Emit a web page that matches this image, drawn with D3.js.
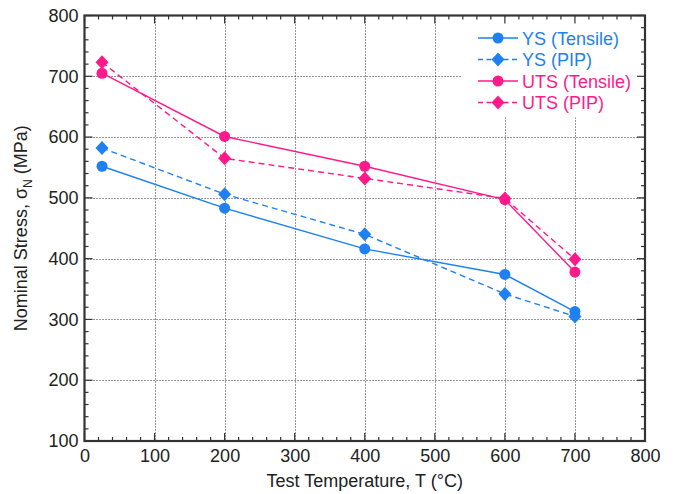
<!DOCTYPE html>
<html><head><meta charset="utf-8">
<script src="https://cdn.jsdelivr.net/npm/d3@7"></script>
<style>body{margin:0;background:#fff}svg{display:block}text{font-family:"Liberation Sans",Arial,sans-serif}</style>
</head><body>
<svg id="c" width="676" height="494"></svg>
<script>
const temps = [25, 200, 400, 600, 700];
const ysTensile = [552, 483, 416, 374, 313];
const ysPIP = [582, 506, 440, 342, 305];
const utsTensile = [705, 601, 552, 497, 378];
const utsPIP = [723, 565, 532, 499, 399];
const seriesNames = ["YS (Tensile)", "YS (PIP)", "UTS (Tensile)", "UTS (PIP)"];
const xTicks = [0,100,200,300,400,500,600,700,800];
const yTicks = [100,200,300,400,500,600,700,800];

const blue = "#1e80f2", pink = "#ff1a8c";
const series = [
  {name: seriesNames[0], vals: ysTensile, color: blue, dash: null, marker: "circle"},
  {name: seriesNames[1], vals: ysPIP, color: blue, dash: "6,4", marker: "diamond"},
  {name: seriesNames[2], vals: utsTensile, color: pink, dash: null, marker: "circle"},
  {name: seriesNames[3], vals: utsPIP, color: pink, dash: "6,4", marker: "diamond"}
];

const L = 84.5, R = 645, T = 15.5, B = 441;
const FS = 18;
const svg = d3.select("#c");
const x = d3.scaleLinear().domain([0,800]).range([L,R]);
const y = d3.scaleLinear().domain([100,800]).range([B,T]);

// grid
const g = svg.append("g");
g.selectAll(".gx").data(xTicks.slice(1,-1)).join("line")
  .attr("x1", d=>Math.round(x(d))+0.5).attr("x2", d=>Math.round(x(d))+0.5).attr("y1", T).attr("y2", B)
  .attr("stroke", "#333").attr("stroke-width", 1).attr("stroke-dasharray", "1,2");
g.selectAll(".gy").data(yTicks.slice(1,-1)).join("line")
  .attr("x1", L).attr("x2", R).attr("y1", d=>Math.round(y(d))+0.5).attr("y2", d=>Math.round(y(d))+0.5)
  .attr("stroke", "#333").attr("stroke-width", 1).attr("stroke-dasharray", "1,2");

// legend background (covers grid)
svg.append("rect").attr("x", 462).attr("y", T+2).attr("width", R-462-2).attr("height", 100).attr("fill", "#fff");

// ticks
const minorX = d3.range(0, 801, 20), minorY = d3.range(100, 801, 20);
const tk = svg.append("g").attr("stroke", "#333").attr("stroke-width", 1.2);
minorX.forEach(v => {
  const len = v % 100 === 0 ? 8 : 4;
  tk.append("line").attr("x1", x(v)).attr("x2", x(v)).attr("y1", B).attr("y2", B-len);
  tk.append("line").attr("x1", x(v)).attr("x2", x(v)).attr("y1", T).attr("y2", T+len);
});
minorY.forEach(v => {
  const len = v % 100 === 0 ? 8 : 4;
  tk.append("line").attr("x1", L).attr("x2", L+len).attr("y1", y(v)).attr("y2", y(v));
  tk.append("line").attr("x1", R).attr("x2", R-len).attr("y1", y(v)).attr("y2", y(v));
});

// axes labels via d3 axes (no lines)
const xa = svg.append("g").attr("transform", `translate(0,${B})`)
  .call(d3.axisBottom(x).tickValues(xTicks).tickSize(0).tickPadding(8));
xa.select(".domain").remove();
xa.selectAll("text").attr("font-size", FS).attr("fill", "#222").attr("font-family", "Liberation Sans, Arial, sans-serif");
const ya = svg.append("g").attr("transform", `translate(${L},0)`)
  .call(d3.axisLeft(y).tickValues(yTicks).tickSize(0).tickPadding(6));
ya.select(".domain").remove();
ya.selectAll("text").attr("font-size", FS).attr("fill", "#222").attr("font-family", "Liberation Sans, Arial, sans-serif");

// frame
svg.append("rect").attr("x", L).attr("y", T).attr("width", R-L).attr("height", B-T)
  .attr("fill", "none").attr("stroke", "#333").attr("stroke-width", 2.2);

// titles
svg.append("text").attr("x", (L+R)/2).attr("y", 487).attr("text-anchor", "middle")
  .attr("font-size", FS).attr("fill", "#222").text("Test Temperature, T (°C)");
const yt = svg.append("text").attr("transform", `translate(27,${(T+B)/2}) rotate(-90)`)
  .attr("text-anchor", "middle").attr("font-size", FS).attr("fill", "#222");
yt.append("tspan").text("Nominal Stress, σ");
yt.append("tspan").attr("font-size", 12).attr("dy", 5).text("N");
yt.append("tspan").attr("dy", -5).text(" (MPa)");

// series
const line = d3.line().x((d,i)=>x(temps[i])).y(d=>y(d));
function marker(sel, type, cx, cy, color) {
  if (type === "circle") sel.append("circle").attr("cx", cx).attr("cy", cy).attr("r", 5.5).attr("fill", color);
  else sel.append("path").attr("d", `M${cx},${cy-7}L${cx+6.5},${cy}L${cx},${cy+7}L${cx-6.5},${cy}Z`).attr("fill", color);
}
series.forEach(s => {
  const sg = svg.append("g");
  sg.append("path").attr("d", line(s.vals)).attr("fill", "none").attr("stroke", s.color)
    .attr("stroke-width", 1.4).attr("stroke-dasharray", s.dash);
  s.vals.forEach((v,i) => marker(sg, s.marker, x(temps[i]), y(v), s.color));
});

// legend
series.forEach((s, i) => {
  const ly = 38 + i * 21.5;
  const lg = svg.append("g");
  lg.append("line").attr("x1", 478).attr("x2", 518).attr("y1", ly).attr("y2", ly)
    .attr("stroke", s.color).attr("stroke-width", 1.4).attr("stroke-dasharray", s.dash ? "5,3.5" : null);
  marker(lg, s.marker, 498, ly, s.color);
  lg.append("text").attr("x", 522).attr("y", ly + 6.5).attr("font-size", FS).attr("fill", s.color).text(s.name);
});
</script>
</body></html>
